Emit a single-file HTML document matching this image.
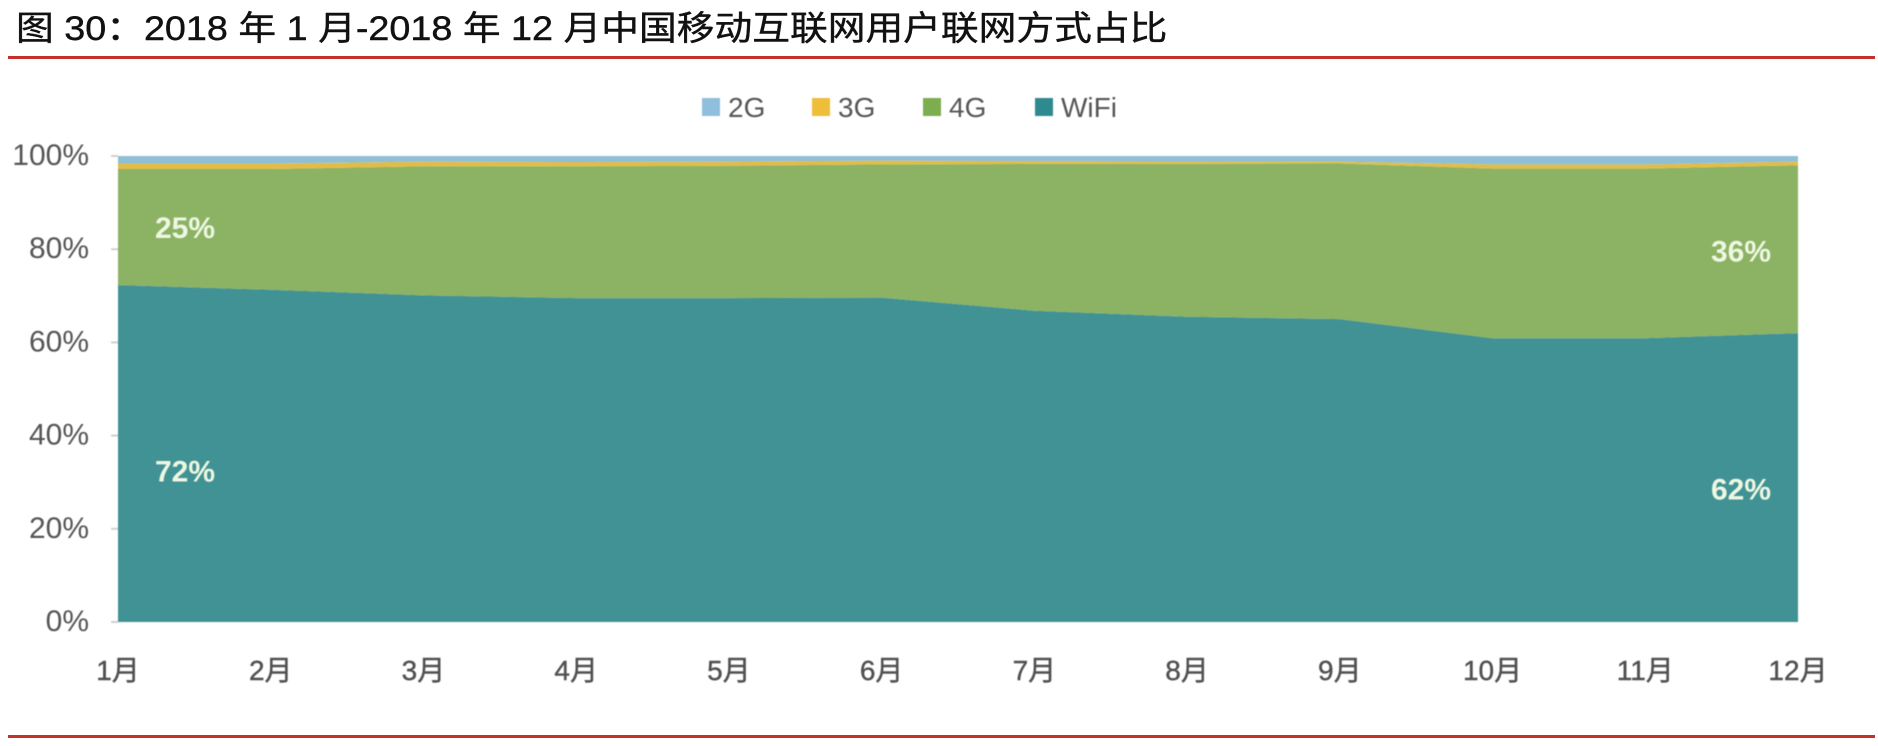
<!DOCTYPE html>
<html lang="zh">
<head>
<meta charset="utf-8">
<title>2018年中国移动互联网用户联网方式占比</title>
<style>
html,body{margin:0;padding:0;background:#fff;width:1878px;height:746px;overflow:hidden}
body{position:relative;font-family:"Liberation Sans","Noto Sans CJK SC",sans-serif}
#title{position:absolute;left:16px;top:9px;font-size:34px;line-height:40px;color:#111;white-space:pre;transform-origin:0 0;transform:scaleX(1.11);-webkit-text-stroke:.4px #111}
.rule{position:absolute;background:#c4302b}
#chart{position:absolute;left:0;top:0;filter:blur(.6px)}
</style>
</head>
<body>
<div id="title">图 30：2018 年 1 月-2018 年 12 月中国移动互联网用户联网方式占比</div>
<div class="rule" style="left:8px;top:56px;width:1867px;height:3px"></div>
<div class="rule" style="left:8px;top:735px;width:1867px;height:3px"></div>
<svg id="chart" width="1878" height="746" xmlns="http://www.w3.org/2000/svg"></svg>
<script>
const months = ['1月','2月','3月','4月','5月','6月','7月','8月','9月','10月','11月','12月'];
const wifi = [72.3,71.3,70.1,69.5,69.5,69.6,66.8,65.5,65.0,60.9,60.9,62.0];
const g4 = [24.9,25.9,27.7,28.3,28.4,28.6,31.5,32.8,33.4,36.4,36.4,36.0];
const g3 = [1.2,1.2,1.0,0.9,0.9,0.8,0.6,0.5,0.4,0.9,0.9,0.8];
const g2 = [1.6,1.6,1.2,1.3,1.2,1.0,1.1,1.2,1.2,1.8,1.8,1.2];
const yTicks = [0,20,40,60,80,100];
const seriesNames = ['WiFi','4G','3G','2G'];
const seriesColors = ['#419294','#8cb264','#e3bc48','#8fbfd6'];
const legendNames = ['2G','3G','4G','WiFi'];
const legendColors = ['#8fbfdd','#eebd3a','#7cae50','#2f8a90'];
const pointLabels = [
  {text:'25%', month:0, value:84.5},
  {text:'72%', month:0, value:32.3},
  {text:'36%', month:11, value:79.5},
  {text:'62%', month:11, value:28.4}
];

const svg = document.getElementById('chart');
const NS = 'http://www.w3.org/2000/svg';
const plot = {left:118, right:1798, top:156, bottom:622};
const legendSlots = [702,812,923,1035];
const fontStack = '"Liberation Sans","Noto Sans CJK SC",sans-serif';

function xScale(i){ return plot.left + i*(plot.right-plot.left)/(months.length-1); }
function yScale(v){ return plot.bottom - v*(plot.bottom-plot.top)/100; }
function make(tag, attrs, text){
  const el = document.createElementNS(NS, tag);
  for (const k in attrs) el.setAttribute(k, attrs[k]);
  if (text !== undefined) el.textContent = text;
  svg.appendChild(el);
  return el;
}

const stacks = [wifi, g4, g3, g2];
const baseline = months.map(() => 0);
stacks.forEach((values, s) => {
  const upper = values.map((v, i) => baseline[i] + v);
  let pts = upper.map((v, i) => xScale(i) + ',' + yScale(v));
  for (let i = months.length-1; i >= 0; i--) pts.push(xScale(i) + ',' + yScale(baseline[i]));
  const area = make('polygon', {points: pts.join(' '), fill: seriesColors[s]});
  
  
  upper.forEach((v, i) => { baseline[i] = v; });
});

yTicks.forEach(t => {
  const tick = make('line', {x1: plot.left-7, x2: plot.left, y1: yScale(t), y2: yScale(t), stroke:'#d0d0d0', 'stroke-width':2});
  
  
  const label = make('text', {x: 89, y: yScale(t)+9, 'text-anchor':'end', 'font-family':fontStack, 'font-size':30, fill:'#555'}, t + '%');
  
  
});

months.forEach((m, i) => {
  const label = make('text', {x: xScale(i), y: 680, 'text-anchor':'middle', 'font-family':fontStack, 'font-size':28, fill:'#505050', stroke:'#505050', 'stroke-width':0.4}, m);
  
  
});

legendNames.forEach((n, i) => {
  const swatch = make('rect', {x: legendSlots[i], y: 98, width: 18, height: 18, fill: legendColors[i]});
  
  
  const text = make('text', {x: legendSlots[i]+26, y: 117, 'font-family':fontStack, 'font-size':28, fill:'#555'}, n);
  
  
});

pointLabels.forEach(p => {
  const cx = p.month === 0 ? xScale(p.month) + 67 : xScale(p.month) - 57;
  const text = make('text', {x: cx, y: yScale(p.value)+10, 'text-anchor':'middle', 'font-family':fontStack, 'font-size':30, 'font-weight':'bold', fill:'#eef7e2'}, p.text);
  
  
});
</script>
</body>
</html>
